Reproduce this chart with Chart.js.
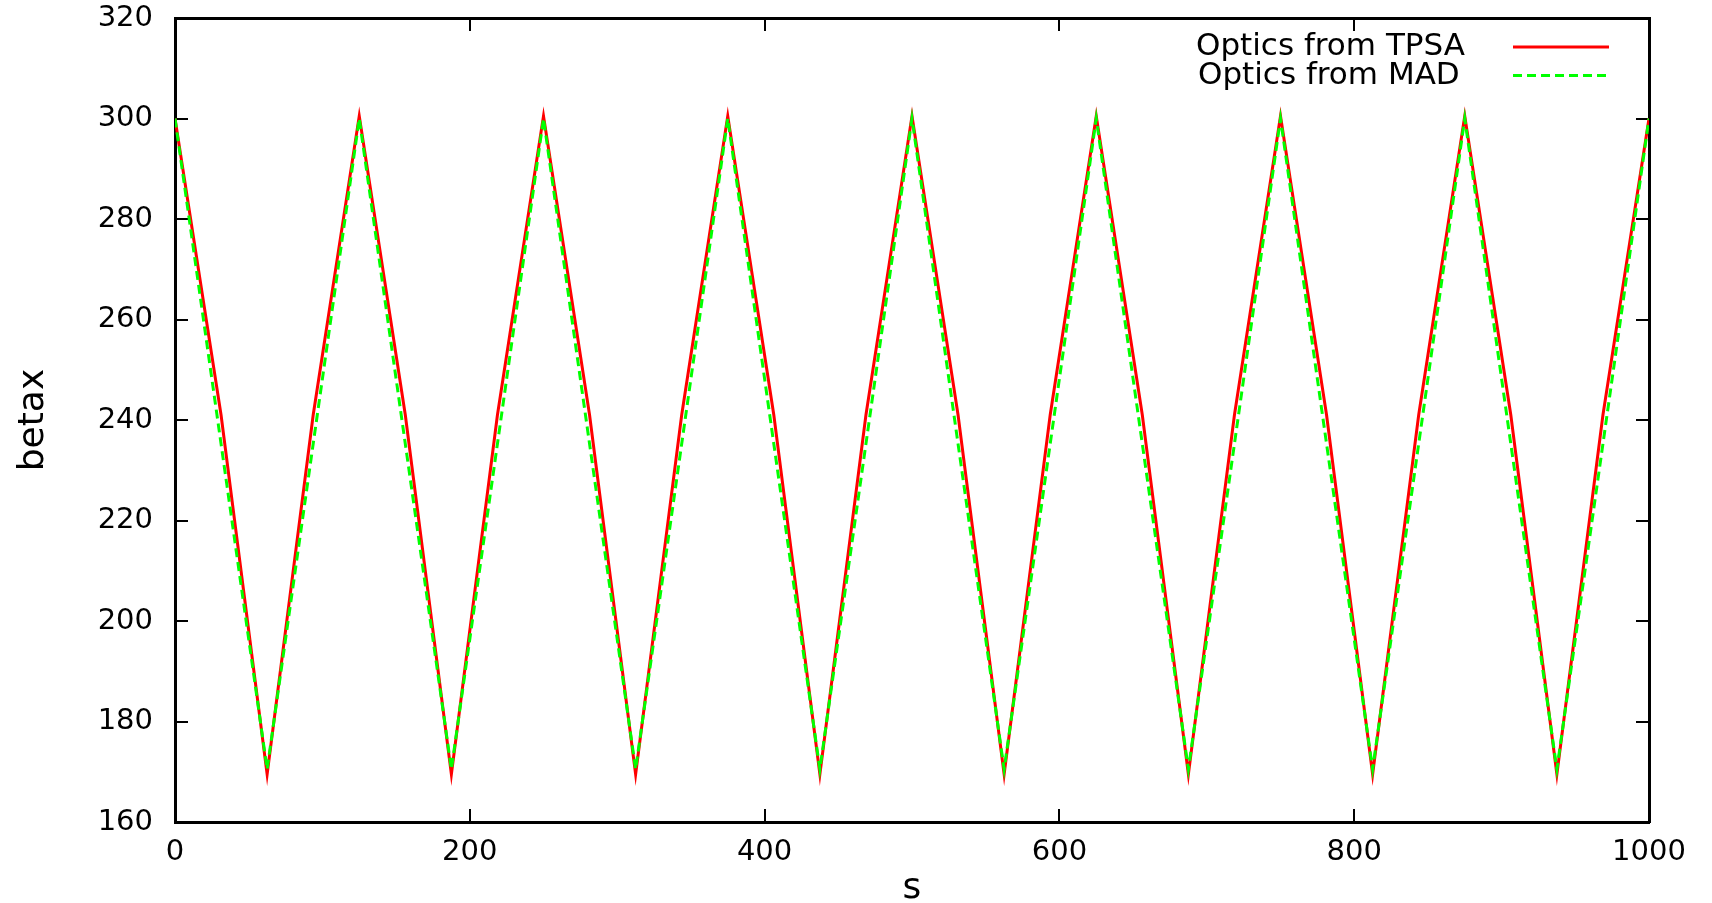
<!DOCTYPE html>
<html>
<head>
<meta charset="utf-8">
<title>betax vs s</title>
<script src="https://cdn.jsdelivr.net/npm/chart.js@4.4.1/dist/chart.umd.min.js"></script>
<style>
  html, body { margin: 0; padding: 0; background: #fff; }
  canvas { display: block; }
</style>
</head>
<body>
<canvas id="optics" width="1712" height="903"></canvas>
<script>
// MAD output, one value per element boundary
const sMad = [0, 62.5, 125, 187.5, 250, 312.5, 375, 437.5, 500,
  562.5, 625, 687.5, 750, 812.5, 875, 937.5, 1000];
const betaxMad = [300, 170.5, 300, 170.5, 300, 170.5, 300, 170.5, 300,
  170.5, 300, 170.5, 300, 170.5, 300, 170.5, 300];

// TPSA tracking, sampled twice per half cell
const sTpsa = [0, 31.25, 62.5, 93.75, 125, 156.25, 187.5, 218.75, 250,
  281.25, 312.5, 343.75, 375, 406.25, 437.5, 468.75, 500,
  531.25, 562.5, 593.75, 625, 656.25, 687.5, 718.75, 750,
  781.25, 812.5, 843.75, 875, 906.25, 937.5, 968.75, 1000];
const betaxTpsa = [300, 241, 169.5, 241, 300.5, 241, 169.5, 241, 300.5,
  241, 169.5, 241, 300.5, 241, 169.5, 241, 300.5,
  241, 169.5, 241, 300.5, 241, 169.5, 241, 300.5,
  241, 169.5, 241, 300.5, 241, 169.5, 241, 300];

const seriesNames = ['Optics from TPSA', 'Optics from MAD'];
const xTickValues = [0, 200, 400, 600, 800, 1000];
const yTickValues = [160, 180, 200, 220, 240, 260, 280, 300, 320];

const FONT = '"DejaVu Sans", sans-serif';

function toPoints(xs, ys) {
  return xs.map((x, i) => ({x: x, y: ys[i]}));
}

// fixed box sizes so the frame lands where gnuplot put it
function fixSize(w, h) {
  return s => {
    if (w !== null) s.width = w;
    if (h !== null) s.height = h;
    s.paddingTop = s.paddingBottom = s.paddingLeft = s.paddingRight = 0;
  };
}

// gnuplot style key: text first, line sample after it
const keyBox = {
  id: 'keyBox',
  afterDraw(chart) {
    const ctx = chart.ctx;
    ctx.save();
    ctx.font = '31px ' + FONT;
    ctx.textBaseline = 'middle';
    ctx.textAlign = 'left';
    chart.data.datasets.forEach((ds, i) => {
      const y = 47 + i * 28.5;
      ctx.fillStyle = '#000';
      ctx.fillText(ds.label, 1196 + i * 2, y);
      ctx.strokeStyle = ds.borderColor;
      ctx.lineWidth = ds.borderWidth;
      ctx.setLineDash(ds.borderDash || []);
      ctx.beginPath();
      ctx.moveTo(1513, y);
      ctx.lineTo(1609, y);
      ctx.stroke();
    });
    ctx.restore();
  }
};

const tickGrid = {drawOnChartArea: false, drawTicks: true, tickLength: -13, color: '#000', lineWidth: 2};
const frame = {display: true, color: '#000', width: 3};
const tickFont = {family: FONT, size: 29};

new Chart(document.getElementById('optics'), {
  type: 'line',
  data: {
    datasets: [{
      label: seriesNames[0],
      data: toPoints(sTpsa, betaxTpsa),
      borderColor: '#ff0000',
      borderWidth: 3,
      pointRadius: 0,
      tension: 0,
      fill: false,
      order: 2
    }, {
      label: seriesNames[1],
      data: toPoints(sMad, betaxMad),
      borderColor: '#00ff00',
      borderWidth: 3,
      borderDash: [9, 5],
      pointRadius: 0,
      tension: 0,
      fill: false,
      order: 1
    }]
  },
  options: {
    responsive: false,
    animation: false,
    layout: {autoPadding: false, padding: {top: 18, right: 63, bottom: 0, left: 0}},
    plugins: {legend: {display: false}, tooltip: {enabled: false}},
    scales: {
      x: {
        type: 'linear', position: 'bottom', min: 0, max: 1000,
        afterBuildTicks: s => { s.ticks = xTickValues.map(v => ({value: v})); },
        afterFit: fixSize(null, 81),
        ticks: {color: '#000', font: tickFont, padding: 26, maxRotation: 0, autoSkip: false,
          callback: v => String(v)},
        grid: tickGrid,
        border: frame,
        title: {display: true, text: 's', color: '#000',
          font: {family: FONT, size: 36, lineHeight: 0.8}, padding: {top: 0, bottom: 0}}
      },
      xTop: {
        type: 'linear', position: 'top', min: 0, max: 1000,
        afterBuildTicks: s => { s.ticks = xTickValues.map(v => ({value: v})); },
        afterFit: fixSize(null, 0),
        ticks: {display: false},
        grid: tickGrid,
        border: frame
      },
      y: {
        type: 'linear', position: 'left', min: 160, max: 320,
        afterBuildTicks: s => { s.ticks = yTickValues.map(v => ({value: v})); },
        afterFit: fixSize(175, null),
        ticks: {color: '#000', font: tickFont, padding: 35, autoSkip: false,
          callback: v => String(v)},
        grid: tickGrid,
        border: frame,
        title: {display: true, text: 'betax', color: '#000',
          font: {family: FONT, size: 36, lineHeight: 1}, padding: {top: 16, bottom: 0}}
      },
      yRight: {
        type: 'linear', position: 'right', min: 160, max: 320,
        afterBuildTicks: s => { s.ticks = yTickValues.map(v => ({value: v})); },
        afterFit: fixSize(0, null),
        ticks: {display: false},
        grid: tickGrid,
        border: frame
      }
    }
  },
  plugins: [keyBox]
});
</script>
</body>
</html>
